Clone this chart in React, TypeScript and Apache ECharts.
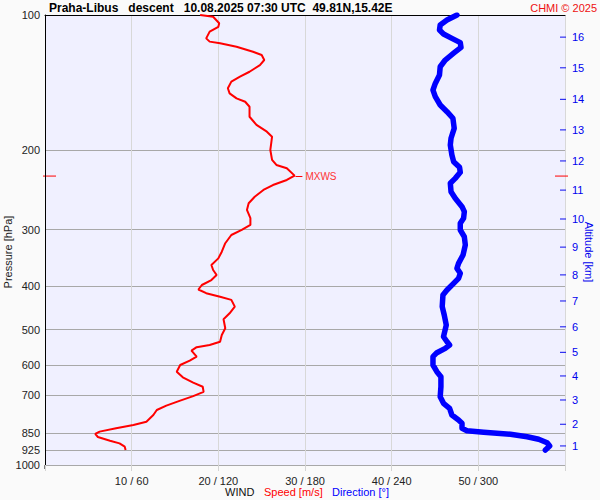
import React, { useEffect, useRef } from 'react';
import * as echarts from 'echarts';

// ---- axis ticks ----
const pressureTicks = [100, 200, 300, 400, 500, 600, 700, 850, 925, 1000];
const altitudeKm = [1, 2, 3, 4, 5, 6, 7, 8, 9, 10, 11, 12, 13, 14, 15, 16];
const altitudePressure = [907, 812, 717, 634, 562, 493, 432, 378, 328, 284, 245, 211, 180, 154, 131, 112];
const speedTickLabels = ['', '10 / 60', '20 / 120', '30 / 180', '40 / 240', '50 / 300', ''];

// ---- wind speed profile (hPa, m/s) ----
const speedPressure = [
  100, 100.9, 104.3, 106.2, 108.9, 112.7, 114.6, 115.6, 117.6, 120.7, 122.7, 125.9, 129.2, 133.7, 137.1,
  140.6, 145.5, 149.3, 153.2, 155.9, 159.9, 168.3, 175.5, 181.7, 186.4, 192.8, 199.5, 209.9, 215.4, 219.1,
  227.5, 232.6, 238.7, 244.8, 253.4, 262.0, 271.2, 282.9, 292.8, 300.4, 308.2, 321.5, 335.7, 347.4, 359.4,
  368.7, 378.3, 388.1, 398.1, 407.4, 415.2, 422.7, 429.6, 444.7, 460.2, 474.3, 496.7, 514.2, 532.4, 541.0,
  547.2, 557.0, 574.4, 586.3, 599.5, 620.5, 638.6, 656.3, 670.0, 687.6, 702.8, 719.4, 738.2, 754.8, 774.4,
  801.3, 814.7, 828.3, 843.0, 853.1, 866.5, 883.0, 895.3, 910.6, 926.0,
];
const speedValues = [
  17.9, 19.4, 20.1, 20.0, 19.0, 18.6, 19.0, 20.2, 22.1, 24.0, 25.0, 25.3, 24.8, 23.6, 22.5,
  21.5, 21.1, 21.3, 22.1, 23.1, 23.6, 23.6, 24.4, 25.6, 26.2, 26.1, 26.0, 26.2, 26.7, 27.9,
  28.8, 27.9, 26.3, 25.2, 24.2, 23.5, 23.3, 23.7, 23.7, 22.7, 21.5, 20.8, 20.4, 20.0, 19.2,
  19.4, 19.8, 19.2, 18.1, 17.7, 18.6, 20.2, 21.5, 21.9, 21.3, 20.6, 20.8, 20.4, 20.2, 19.0,
  17.5, 16.9, 17.5, 16.7, 15.6, 15.2, 15.9, 17.1, 18.2, 18.3, 17.1, 15.6, 14.0, 12.9, 12.5,
  11.7, 10.2, 8.2, 6.3, 5.8, 6.1, 7.5, 8.6, 9.2, 9.3,
];

// ---- wind direction profile (hPa, deg) ----
const dirPressure = [
  100, 102.6, 105.2, 108.0, 110.2, 112.7, 115.2, 118.0, 121.6, 125.9, 130.3, 136.0, 141.9, 146.8, 151.9,
  158.5, 164.0, 169.6, 178.6, 187.9, 194.5, 204.7, 211.8, 218.0, 223.7, 230.7, 236.6, 247.0, 255.5, 266.7,
  273.6, 283.0, 290.4, 300.5, 311.0, 324.4, 341.5, 356.4, 365.6, 375.0, 384.7, 394.7, 408.5, 419.1, 444.8,
  464.2, 488.6, 518.7, 532.1, 541.2, 550.5, 562.9, 574.5, 599.5, 620.4, 636.5, 669.9, 705.0, 729.3, 748.2,
  774.3, 794.3, 807.8, 828.7, 839.0, 845.8, 854.6, 865.2, 876.8, 892.1, 907.4, 926.2,
];
const dirValues = [
  285.2, 278.3, 273.6, 273.1, 275.9, 281.7, 287.5, 288.0, 282.9, 277.1, 273.6, 273.1, 270.2, 268.6, 270.2,
  273.6, 278.3, 282.4, 283.3, 281.1, 280.6, 281.7, 282.9, 287.0, 287.5, 284.0, 280.6, 281.1, 284.0, 288.7,
  290.3, 289.8, 287.5, 287.5, 290.3, 291.0, 289.4, 286.3, 285.2, 287.5, 286.3, 282.9, 278.3, 275.5, 275.0,
  276.4, 277.8, 275.9, 278.3, 280.1, 277.1, 271.3, 268.6, 268.6, 271.3, 274.1, 274.1, 273.6, 275.9, 280.1,
  281.7, 286.3, 288.7, 288.7, 292.1, 303.7, 322.2, 333.8, 341.8, 347.6, 349.4, 346.4,
];

// ---- maximum wind ----
const mxwsPressure = 228;
const mxwsSpeed = 28.9;

const FONT = "'Liberation Sans', Arial, Helvetica, sans-serif";
const NB = '\u00a0';

export default function App() {
  const ref = useRef<HTMLDivElement>(null);

  useEffect(() => {
    const el = ref.current;
    if (!el) return;
    const chart = echarts.init(el, undefined, { renderer: 'svg' });
    const lg = (p: number) => Math.log10(p);
    const pVals = pressureTicks.map(lg);
    const altVals = altitudePressure.map(lg);
    const speedData = speedPressure.map((p, i) => [speedValues[i], lg(p)]);
    const dirData = dirPressure.map((p, i) => [dirValues[i], lg(p)]);
    const altTickData = altVals.map((v) => [60, v]);
    const mx = lg(mxwsPressure);

    const kmFor = (v: number) => {
      let best = 0;
      let d = Infinity;
      altVals.forEach((a, i) => {
        const dd = Math.abs(a - v);
        if (dd < d) {
          d = dd;
          best = i;
        }
      });
      return String(altitudeKm[best]);
    };

    const option: any = {
      animation: false,
      backgroundColor: '#fafafa',
      textStyle: { fontFamily: FONT },
      title: [
        {
          text: `Praha-Libus${NB}${NB}${NB}descent${NB}${NB}${NB}10.08.2025 07:30 UTC${NB}${NB}49.81N,15.42E`,
          left: 49,
          top: 2,
          padding: 0,
          textStyle: { fontSize: 12, fontWeight: 'bold', color: '#000', fontFamily: FONT },
        },
        {
          text: 'CHMI © 2025',
          right: 3,
          top: 2,
          padding: 0,
          textStyle: { fontSize: 11, fontWeight: 'normal', color: '#ee1111', fontFamily: FONT },
        },
      ],
      grid: {
        left: 45,
        right: 35,
        top: 15,
        bottom: 35,
        show: true,
        backgroundColor: '#f0f0ff',
        borderWidth: 0,
      },
      xAxis: [
        {
          type: 'value',
          min: 0,
          max: 60,
          interval: 10,
          position: 'bottom',
          axisLine: { show: true, lineStyle: { color: '#a8a8a8' } },
          axisTick: { show: true, length: 6, lineStyle: { color: '#d4d4d4' } },
          axisLabel: {
            margin: 10,
            fontSize: 11,
            color: '#222',
            fontFamily: FONT,
            formatter: (v: number) => speedTickLabels[Math.round(v / 10)] ?? '',
          },
          splitLine: { show: true, lineStyle: { color: '#d8d8d8', width: 1 } },
        },
        {
          type: 'value',
          min: 0,
          max: 360,
          position: 'top',
          axisLine: { show: true, lineStyle: { color: '#000' } },
          axisTick: { show: false },
          axisLabel: { show: false },
          splitLine: { show: false },
        },
      ],
      yAxis: [
        {
          type: 'value',
          min: 2,
          max: 3,
          inverse: true,
          position: 'left',
          axisLine: { show: true, lineStyle: { color: '#000' } },
          axisTick: { show: false, customValues: pVals },
          axisLabel: {
            customValues: pVals,
            formatter: (v: number) => String(Math.round(Math.pow(10, v))),
            fontSize: 11,
            color: '#222',
            margin: 5,
            fontFamily: FONT,
          },
          splitLine: { show: true, lineStyle: { color: '#a8a8a8', width: 1 } },
        },
        {
          type: 'value',
          min: 2,
          max: 3,
          inverse: true,
          position: 'right',
          axisLine: { show: false },
          axisTick: { show: false, customValues: altVals },
          axisLabel: {
            customValues: altVals,
            formatter: (v: number) => kmFor(v),
            fontSize: 11,
            color: '#0000ee',
            margin: 7,
            fontFamily: FONT,
          },
          splitLine: { show: false },
        },
      ],
      series: [
        {
          name: 'Direction',
          type: 'line',
          xAxisIndex: 1,
          yAxisIndex: 0,
          data: dirData,
          showSymbol: false,
          symbol: 'none',
          lineStyle: { color: '#0000ff', width: 5.5, cap: 'round', join: 'round' },
          z: 3,
        },
        {
          name: 'Speed',
          type: 'line',
          xAxisIndex: 0,
          yAxisIndex: 0,
          data: speedData,
          showSymbol: false,
          symbol: 'none',
          lineStyle: { color: '#ff0000', width: 2 },
          z: 4,
          markLine: {
            silent: true,
            symbol: 'none',
            animation: false,
            lineStyle: { color: '#ff0000', width: 1, type: 'solid' },
            label: {
              show: true,
              position: 'end',
              formatter: 'MXWS',
              color: '#ff3333',
              fontSize: 10,
              fontFamily: FONT,
              distance: 3,
            },
            data: [[{ coord: [mxwsSpeed, mx] }, { coord: [mxwsSpeed + 0.8, mx] }]],
          },
        },
        {
          name: 'AltitudeTicks',
          type: 'scatter',
          xAxisIndex: 0,
          yAxisIndex: 1,
          data: altTickData,
          symbol: 'rect',
          symbolSize: [6, 1.2],
          symbolOffset: [-2, 0],
          itemStyle: { color: '#0000ee' },
          clip: false,
          silent: true,
          z: 5,
        },
      ],
    };
    chart.setOption(option);

    const left = chart.convertToPixel({ xAxisIndex: 0, yAxisIndex: 0 }, [0, mx]) as number[];
    const right = chart.convertToPixel({ xAxisIndex: 0, yAxisIndex: 0 }, [60, mx]) as number[];
    const top = chart.convertToPixel({ xAxisIndex: 0, yAxisIndex: 0 }, [0, 2]) as number[];
    const bottom = chart.convertToPixel({ xAxisIndex: 0, yAxisIndex: 0 }, [0, 3]) as number[];
    const midY = (top[1] + bottom[1]) / 2 + 12;
    const midX = (left[0] + right[0]) / 2;

    chart.setOption({
      graphic: [
        {
          type: 'line',
          silent: true,
          shape: { x1: left[0] - 2, y1: left[1], x2: left[0] + 11, y2: left[1] },
          style: { stroke: '#ff0000', lineWidth: 1 },
        },
        {
          type: 'line',
          silent: true,
          shape: { x1: right[0] - 10, y1: right[1], x2: right[0] + 3, y2: right[1] },
          style: { stroke: '#ff0000', lineWidth: 1 },
        },
        {
          type: 'line',
          silent: true,
          shape: { x1: left[0], y1: bottom[1], x2: left[0], y2: bottom[1] + 4 },
          style: { stroke: '#000', lineWidth: 1 },
        },
        {
          type: 'text',
          silent: true,
          x: 8,
          y: midY,
          rotation: Math.PI / 2,
          style: {
            text: 'Pressure [hPa]',
            fill: '#222',
            fontSize: 11,
            fontFamily: FONT,
            align: 'center',
            verticalAlign: 'middle',
          },
        },
        {
          type: 'text',
          silent: true,
          x: 589,
          y: midY,
          rotation: -Math.PI / 2,
          style: {
            text: 'Altitude [km]',
            fill: '#0000ee',
            fontSize: 11,
            fontFamily: FONT,
            align: 'center',
            verticalAlign: 'middle',
          },
        },
        {
          type: 'text',
          silent: true,
          x: midX - 80,
          y: 492,
          style: { text: 'WIND', fill: '#111', fontSize: 11, fontFamily: FONT, align: 'left', verticalAlign: 'middle' },
        },
        {
          type: 'text',
          silent: true,
          x: midX - 41,
          y: 492,
          style: { text: 'Speed [m/s]', fill: '#ff0000', fontSize: 11, fontFamily: FONT, align: 'left', verticalAlign: 'middle' },
        },
        {
          type: 'text',
          silent: true,
          x: midX + 27,
          y: 492,
          style: { text: 'Direction [°]', fill: '#0000ff', fontSize: 11, fontFamily: FONT, align: 'left', verticalAlign: 'middle' },
        },
      ],
    });

    return () => {
      chart.dispose();
    };
  }, []);

  return (
    <div
      ref={ref}
      style={{ position: 'absolute', left: 0, top: 0, width: 600, height: 500 }}
    />
  );
}
